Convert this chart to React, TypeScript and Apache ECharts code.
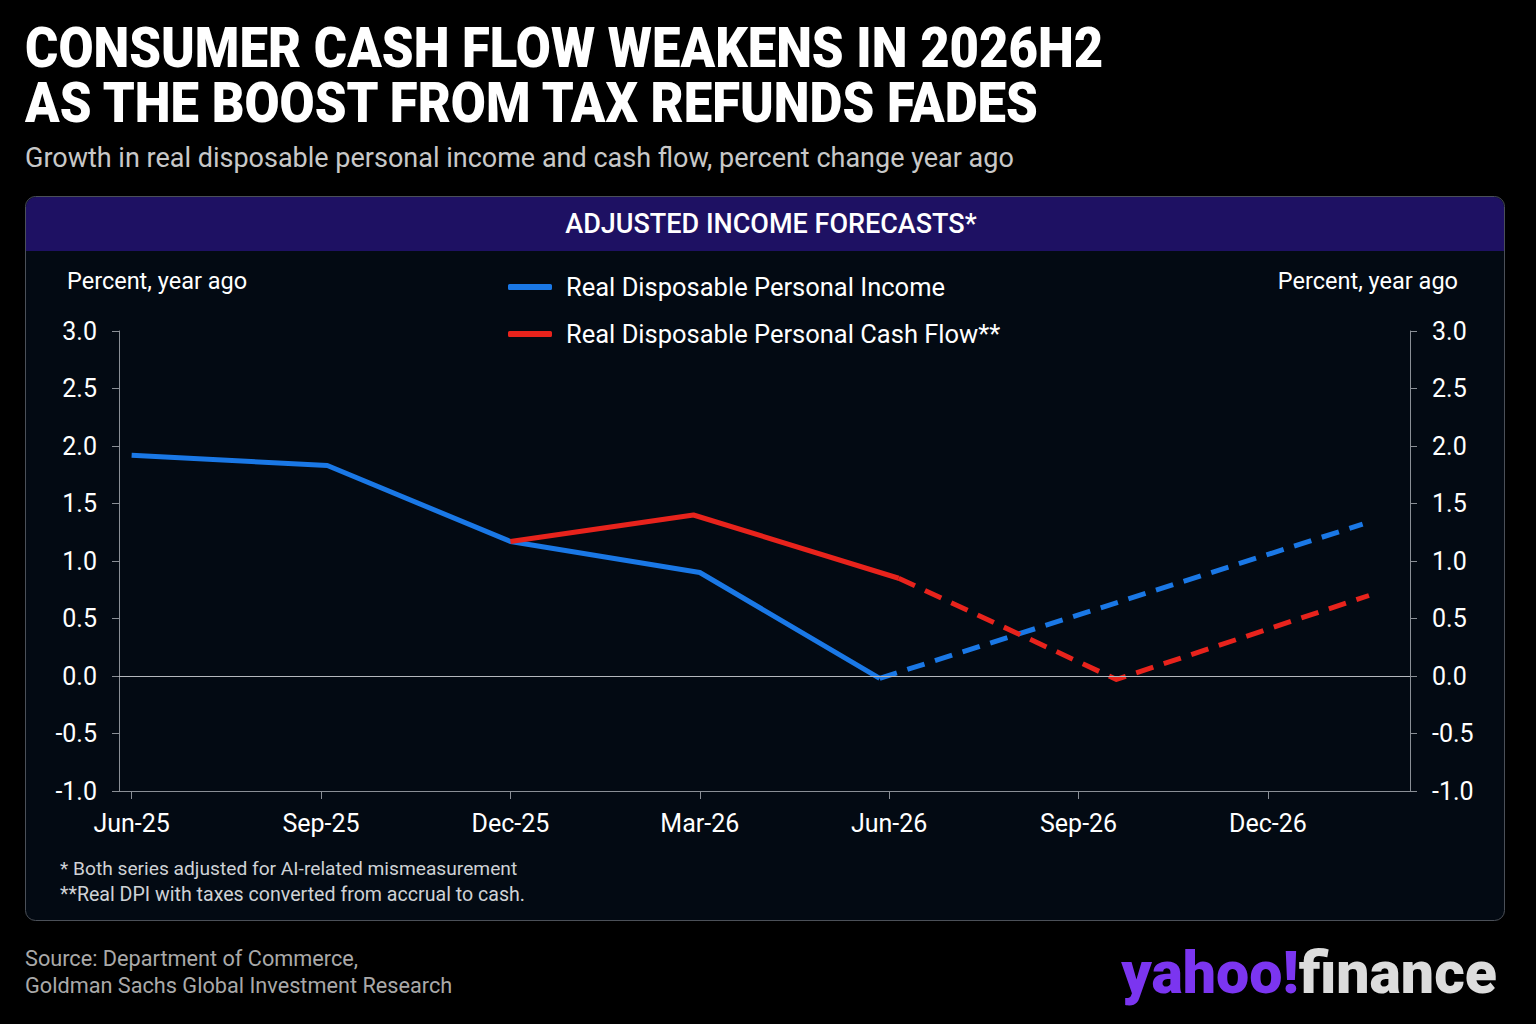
import { useEffect, useRef } from "react";
import * as echarts from "echarts";

// x positions are months after Jun-25
const tickMonths = [0, 3, 6, 9, 12, 15, 18];
const tickLabels = ["Jun-25", "Sep-25", "Dec-25", "Mar-26", "Jun-26", "Sep-26", "Dec-26"];

const incomeName = "Real Disposable Personal Income";
const cashName = "Real Disposable Personal Cash Flow**";

const incomeActualX = [0, 3.1, 6, 9, 11.85];
const incomeActualY = [1.92, 1.83, 1.17, 0.9, -0.02];
const incomeForecastX = [11.85, 19.5];
const incomeForecastY = [-0.02, 1.32];

const cashActualX = [6, 8.9, 12.15];
const cashActualY = [1.17, 1.4, 0.85];
const cashForecastX = [12.15, 15.6, 19.6];
const cashForecastY = [0.85, -0.03, 0.7];

const BLUE = "#1a78e6";
const RED = "#e8231c";
const FONT = "Roboto, 'Noto Sans', sans-serif";

const pairs = (xs: number[], ys: number[]) => xs.map((x, i) => [x, ys[i]]);

export default function App() {
  const ref = useRef<HTMLDivElement | null>(null);

  useEffect(() => {
    if (!ref.current) return;
    const chart = echarts.init(ref.current, undefined, { renderer: "svg" });

    const yAxisBase = {
      type: "value" as const,
      min: -1,
      max: 3,
      interval: 0.5,
      splitLine: { show: false },
      axisLine: { show: true, onZero: false, lineStyle: { color: "#8a8f96", width: 1 } },
      axisTick: { show: true, length: 7, lineStyle: { color: "#8a8f96" } },
      axisLabel: {
        color: "#ffffff",
        fontSize: 25,
        fontFamily: FONT,
        margin: 22,
        formatter: (v: number) => v.toFixed(1),
      },
    };

    const lineSeries = (name: string, data: number[][], color: string, dashed: boolean) => ({
      name,
      type: "line" as const,
      data,
      showSymbol: false,
      symbol: "none",
      color,
      lineStyle: {
        color,
        width: 5,
        type: dashed ? [18, 11] : "solid",
        cap: "butt" as const,
        join: "round" as const,
      },
      z: dashed ? 3 : 4,
    });

    chart.setOption({
      animation: false,
      backgroundColor: "#000000",
      textStyle: { fontFamily: FONT },
      grid: { left: 119, right: 126, top: 331, bottom: 233 },
      legend: {
        orient: "vertical",
        left: 508,
        top: 274,
        padding: 0,
        itemWidth: 44,
        itemHeight: 6,
        itemGap: 21,
        icon: "roundRect",
        data: [incomeName, cashName],
        textStyle: { color: "#ffffff", fontSize: 25.5, fontFamily: FONT, padding: [0, 0, 0, 9] },
      },
      xAxis: {
        type: "value",
        min: -0.2,
        max: 20.25,
        splitLine: { show: false },
        axisLine: { show: true, onZero: false, lineStyle: { color: "#8a8f96", width: 1 } },
        axisTick: { show: true, length: 8, customValues: tickMonths, lineStyle: { color: "#8a8f96" } },
        axisLabel: {
          customValues: tickMonths,
          color: "#ffffff",
          fontSize: 25,
          fontFamily: FONT,
          margin: 20,
          formatter: (v: number) => tickLabels[tickMonths.indexOf(Math.round(v))] ?? "",
        },
      },
      yAxis: [
        { ...yAxisBase, position: "left" },
        { ...yAxisBase, position: "right" },
      ],
      series: [
        {
          ...lineSeries(incomeName, pairs(incomeActualX, incomeActualY), BLUE, false),
          markLine: {
            silent: true,
            symbol: "none",
            label: { show: false },
            lineStyle: { color: "#b5b8bd", width: 1, type: "solid" },
            data: [{ yAxis: 0 }],
          },
        },
        lineSeries(incomeName, pairs(incomeForecastX, incomeForecastY), BLUE, true),
        lineSeries(cashName, pairs(cashActualX, cashActualY), RED, false),
        lineSeries(cashName, pairs(cashForecastX, cashForecastY), RED, true),
      ],
      graphic: [
        {
          type: "rect",
          z: -10,
          shape: { x: 25.5, y: 196.5, width: 1479, height: 724, r: 10 },
          style: { fill: "#030a13", stroke: "#4b5058", lineWidth: 1 },
        },
        {
          type: "rect",
          z: -9,
          shape: { x: 26, y: 197, width: 1478, height: 54, r: [10, 10, 0, 0] },
          style: { fill: "#1e1163" },
        },
        {
          type: "text",
          x: 771,
          y: 224,
          style: {
            text: "ADJUSTED INCOME FORECASTS*",
            fill: "#ffffff",
            font: `500 27px ${FONT}`,
            align: "center",
            verticalAlign: "middle",
          },
        },
        {
          type: "text",
          x: 25,
          y: 21,
          scaleX: 0.925,
          style: {
            text: "CONSUMER CASH FLOW WEAKENS IN 2026H2\nAS THE BOOST FROM TAX REFUNDS FADES",
            fill: "#ffffff",
            font: `900 55px ${FONT}`,
            lineHeight: 55,
            verticalAlign: "top",
          },
        },
        {
          type: "text",
          x: 25,
          y: 158,
          style: {
            text: "Growth in real disposable personal income and cash flow, percent change year ago",
            fill: "#c8c8c8",
            font: `400 27px ${FONT}`,
            verticalAlign: "middle",
          },
        },
        {
          type: "text",
          x: 67,
          y: 281,
          style: {
            text: "Percent, year ago",
            fill: "#ffffff",
            font: `400 23.5px ${FONT}`,
            verticalAlign: "middle",
          },
        },
        {
          type: "text",
          x: 1458,
          y: 281,
          style: {
            text: "Percent, year ago",
            fill: "#ffffff",
            font: `400 23.5px ${FONT}`,
            align: "right",
            verticalAlign: "middle",
          },
        },
        {
          type: "text",
          x: 60,
          y: 868,
          style: {
            text: "* Both series adjusted for AI-related mismeasurement",
            fill: "#cfd2d6",
            font: `400 19.2px ${FONT}`,
            verticalAlign: "middle",
          },
        },
        {
          type: "text",
          x: 60,
          y: 894,
          style: {
            text: "**Real DPI with taxes converted from accrual to cash.",
            fill: "#cfd2d6",
            font: `400 19.6px ${FONT}`,
            verticalAlign: "middle",
          },
        },
        {
          type: "text",
          x: 25,
          y: 958,
          style: {
            text: "Source: Department of Commerce,",
            fill: "#a9a9a9",
            font: `400 21.7px ${FONT}`,
            verticalAlign: "middle",
          },
        },
        {
          type: "text",
          x: 25,
          y: 985,
          style: {
            text: "Goldman Sachs Global Investment Research",
            fill: "#a9a9a9",
            font: `400 21.7px ${FONT}`,
            verticalAlign: "middle",
          },
        },
        {
          type: "text",
          x: 1497,
          y: 972,
          style: {
            text: "{a|yahoo!}{b|finance}",
            align: "right",
            verticalAlign: "middle",
            rich: {
              a: { fill: "#7b35f0", font: `900 59px ${FONT}` },
              b: { fill: "#dcdcdc", font: `900 59px ${FONT}` },
            },
          },
        },
      ],
    });

    return () => chart.dispose();
  }, []);

  return (
    <div
      ref={ref}
      style={{ position: "absolute", left: 0, top: 0, width: 1536, height: 1024 }}
    />
  );
}
